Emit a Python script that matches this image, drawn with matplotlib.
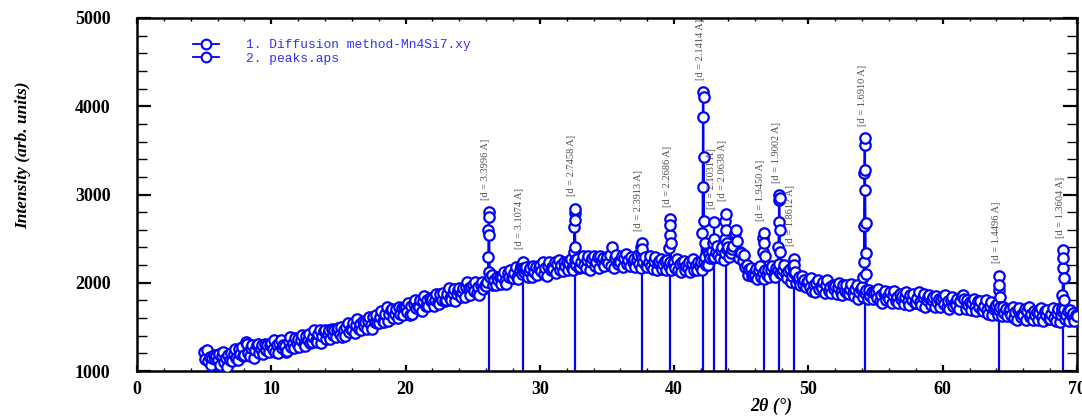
import numpy as np
import matplotlib
matplotlib.use("Agg")
import matplotlib.pyplot as plt
from matplotlib.lines import Line2D
from matplotlib.ticker import MultipleLocator

# XRD pattern, 0.1 deg steps from 5.0 to 70.0 (one row per degree)
two_theta = np.round(np.arange(5.0, 70.05, 0.1), 1)
intensity = [
    1210, 1140, 1240, 1110, 1160, 1070, 1150, 1180, 1140, 1170,  # 5
    1120, 1190, 1070, 1170, 1220, 1100, 1150, 1040, 1180, 1130,  # 6
    1200, 1110, 1190, 1250, 1150, 1120, 1250, 1190, 1270, 1170,  # 7
    1180, 1330, 1310, 1200, 1170, 1260, 1300, 1150, 1240, 1290,  # 8
    1310, 1200, 1250, 1290, 1190, 1310, 1240, 1290, 1210, 1300,  # 9
    1320, 1250, 1350, 1220, 1290, 1200, 1320, 1350, 1260, 1300,  # 10
    1280, 1220, 1230, 1330, 1390, 1270, 1320, 1260, 1370, 1320,  # 11
    1360, 1270, 1350, 1410, 1310, 1280, 1400, 1350, 1420, 1320,  # 12
    1330, 1390, 1460, 1350, 1330, 1420, 1460, 1320, 1400, 1450,  # 13
    1470, 1360, 1420, 1460, 1360, 1480, 1410, 1470, 1380, 1470,  # 14
    1490, 1420, 1500, 1380, 1470, 1400, 1500, 1540, 1440, 1480,  # 15
    1470, 1540, 1430, 1520, 1590, 1480, 1530, 1460, 1570, 1510,  # 16
    1560, 1480, 1570, 1610, 1520, 1480, 1610, 1560, 1630, 1540,  # 17
    1540, 1610, 1680, 1570, 1560, 1650, 1720, 1570, 1650, 1690,  # 18
    1700, 1600, 1650, 1700, 1600, 1720, 1650, 1710, 1630, 1720,  # 19
    1730, 1670, 1770, 1640, 1740, 1650, 1760, 1800, 1710, 1740,  # 20
    1720, 1800, 1680, 1790, 1850, 1740, 1800, 1740, 1830, 1790,  # 21
    1820, 1740, 1810, 1870, 1780, 1760, 1870, 1810, 1880, 1790,  # 22
    1800, 1870, 1940, 1830, 1800, 1880, 1930, 1790, 1870, 1920,  # 23
    1940, 1840, 1890, 1940, 1840, 1950, 2010, 1940, 1860, 1950,  # 24
    1970, 1910, 2010, 1880, 1950, 1860, 1970, 2010, 1930, 1980,  # 25
    1960, 2010, 2120, 2060, 2090, 1970, 2030, 1970, 2070, 2030,  # 26
    2070, 1990, 2070, 2120, 2020, 1990, 2110, 2070, 2140, 2050,  # 27
    2050, 2110, 2180, 2070, 2040, 2140, 2190, 2100, 2120, 2160,  # 28
    2180, 2070, 2130, 2170, 2060, 2190, 2120, 2180, 2090, 2170,  # 29
    2200, 2130, 2230, 2100, 2170, 2080, 2190, 2230, 2140, 2180,  # 30
    2160, 2230, 2110, 2210, 2260, 2150, 2200, 2130, 2240, 2190,  # 31
    2230, 2140, 2220, 2270, 2170, 2140, 2260, 2200, 2270, 2170,  # 32
    2180, 2240, 2300, 2200, 2170, 2260, 2300, 2150, 2240, 2280,  # 33
    2300, 2190, 2240, 2290, 2170, 2300, 2230, 2280, 2190, 2260,  # 34
    2290, 2220, 2320, 2190, 2400, 2170, 2280, 2310, 2210, 2250,  # 35
    2230, 2300, 2180, 2280, 2330, 2210, 2260, 2190, 2290, 2240,  # 36
    2270, 2180, 2260, 2310, 2210, 2170, 2280, 2230, 2290, 2190,  # 37
    2180, 2240, 2300, 2190, 2160, 2250, 2290, 2140, 2220, 2250,  # 38
    2270, 2160, 2210, 2250, 2140, 2260, 2190, 2240, 2150, 2220,  # 39
    2240, 2170, 2270, 2140, 2210, 2120, 2230, 2250, 2150, 2190,  # 40
    2170, 2240, 2120, 2220, 2270, 2150, 2200, 2140, 2240, 2190,  # 41
    2230, 2150, 2230, 2290, 2200, 2200, 2330, 2280, 2360, 2280,  # 42
    2290, 2350, 2420, 2310, 2280, 2370, 2410, 2260, 2340, 2380,  # 43
    2410, 2290, 2340, 2380, 2420, 2560, 2600, 2470, 2280, 2350,  # 44
    2340, 2250, 2320, 2180, 2200, 2090, 2160, 2170, 2080, 2100,  # 45
    2090, 2160, 2040, 2140, 2190, 2070, 2110, 2040, 2140, 2090,  # 46
    2150, 2060, 2140, 2190, 2090, 2060, 2170, 2140, 2210, 2110,  # 47
    2100, 2150, 2200, 2100, 2050, 2130, 2160, 2010, 2080, 2110,  # 48
    2120, 2000, 2040, 2070, 1970, 2080, 1990, 2030, 1950, 2010,  # 49
    2020, 1950, 2050, 1910, 1980, 1890, 2000, 2030, 1930, 1960,  # 50
    1940, 2010, 1880, 1980, 2030, 1910, 1950, 1880, 1980, 1930,  # 51
    1960, 1870, 1950, 2000, 1900, 1860, 1970, 1910, 1980, 1880,  # 52
    1870, 1930, 1990, 1880, 1850, 1930, 1970, 1820, 1900, 1930,  # 53
    1950, 1840, 1880, 1920, 1820, 1920, 1850, 1900, 1820, 1880,  # 54
    1900, 1830, 1930, 1790, 1860, 1770, 1880, 1910, 1810, 1850,  # 55
    1820, 1890, 1770, 1860, 1910, 1790, 1840, 1770, 1870, 1820,  # 56
    1850, 1760, 1840, 1890, 1790, 1750, 1860, 1810, 1870, 1770,  # 57
    1770, 1830, 1890, 1780, 1750, 1840, 1870, 1720, 1800, 1840,  # 58
    1860, 1750, 1800, 1840, 1730, 1850, 1780, 1820, 1730, 1810,  # 59
    1830, 1760, 1860, 1730, 1790, 1700, 1810, 1840, 1740, 1770,  # 60
    1750, 1820, 1700, 1790, 1850, 1860, 1820, 1700, 1800, 1750,  # 61
    1780, 1690, 1770, 1820, 1720, 1680, 1790, 1730, 1790, 1690,  # 62
    1680, 1740, 1800, 1690, 1650, 1740, 1780, 1630, 1700, 1730,  # 63
    1750, 1640, 1690, 1720, 1620, 1730, 1660, 1700, 1620, 1680,  # 64
    1700, 1630, 1730, 1600, 1670, 1580, 1690, 1710, 1610, 1650,  # 65
    1630, 1700, 1580, 1680, 1730, 1610, 1650, 1580, 1680, 1640,  # 66
    1670, 1580, 1660, 1710, 1610, 1570, 1680, 1630, 1690, 1590,  # 67
    1590, 1650, 1710, 1600, 1570, 1660, 1700, 1560, 1640, 1680,  # 68
    1700, 1590, 1640, 1680, 1570, 1690, 1620, 1660, 1570, 1640,  # 69
    1620,                                                        # 70
]

# finer points on the sharp reflections
peak_detail_2theta = [
    26.15, 26.17, 26.19, 26.21, 26.23,
    28.69, 28.71, 28.73,
    32.53, 32.56, 32.58, 32.60, 32.62, 32.65,
    37.54, 37.56, 37.58, 37.61,
    39.64, 39.67, 39.70, 39.72, 39.75,
    42.09, 42.12, 42.15, 42.17, 42.19, 42.21, 42.24, 42.27,
    42.93, 42.97, 43.00,
    43.78, 43.81, 43.83, 43.86, 43.90,
    46.60, 46.63, 46.66, 46.69, 46.73,
    47.76, 47.79, 47.81, 47.83, 47.85, 47.88, 47.92,
    48.86, 48.90, 48.93,
    54.10, 54.12, 54.14, 54.16, 54.18, 54.20, 54.22, 54.24, 54.26, 54.28, 54.31,
    64.15, 64.17, 64.19, 64.21, 64.24,
    68.90, 68.92, 68.94, 68.97, 68.99, 69.02, 69.05,
]
peak_detail_int = [
    2290, 2600, 2800, 2745, 2540,
    2180, 2240, 2170,
    2350, 2630, 2790, 2840, 2710, 2400,
    2330, 2400, 2450, 2380,
    2390, 2540, 2720, 2650, 2450,
    2560, 3090, 3880, 4160, 4105, 3430, 2700, 2450,
    2450, 2690, 2500,
    2500, 2700, 2780, 2600, 2450,
    2350, 2510, 2560, 2450, 2300,
    2400, 2690, 2940, 2990, 2960, 2600, 2350,
    2180, 2270, 2200,
    2070, 2230, 2640, 3240, 3560, 3640, 3280, 3050, 2680, 2340, 2100,
    1770, 1920, 2080, 1975, 1840,
    1715, 1860, 2170, 2370, 2280, 2055, 1800,
]

# peaks.aps: position, top, d-spacing label
peak_pos = [26.19, 28.71, 32.59, 37.58, 39.70, 42.17, 42.97, 43.83,
            46.66, 47.83, 48.90, 54.20, 64.20, 68.97]
peak_top = [2800, 2240, 2840, 2450, 2720, 4160, 2690, 2780,
            2560, 2990, 2270, 3640, 2080, 2370]
peak_d = ["3.3996", "3.1074", "2.7458", "2.3913", "2.2686", "2.1414", "2.1031",
          "2.0638", "1.9450", "1.9002", "1.8612", "1.6910", "1.4496", "1.3604"]

x = np.concatenate([two_theta, peak_detail_2theta])
y = np.concatenate([intensity, peak_detail_int])
order = np.argsort(x, kind="stable")
x, y = x[order], y[order]

blue = "#0000ff"
serif = "Liberation Serif"

fig = plt.figure(figsize=(10.82, 4.17), dpi=100)
ax = fig.add_axes([137 / 1082, 1 - 371 / 417, 940 / 1082, 353 / 417])

ax.plot(x, y, "-o", color=blue, lw=1.2, ms=7.5, mew=1.6, mfc="white", mec=blue, zorder=3)
ax.vlines(peak_pos, 1000, peak_top, color=blue, lw=1.6, zorder=2)

for pos, top, d in zip(peak_pos, peak_top, peak_d):
    ax.annotate("[d = {} A]".format(d), xy=(pos, top), xytext=(-2, 9),
                textcoords="offset points", rotation=90, ha="center", va="bottom",
                fontsize=7.5, family=serif, color="#505050", zorder=4)

ax.set_xlim(0, 70)
ax.set_ylim(1000, 5000)
ax.xaxis.set_major_locator(MultipleLocator(10))
ax.xaxis.set_minor_locator(MultipleLocator(2))
ax.yaxis.set_major_locator(MultipleLocator(1000))
ax.yaxis.set_minor_locator(MultipleLocator(200))

for s in ax.spines.values():
    s.set_linewidth(1.8)
ax.tick_params(axis="x", which="major", direction="in", length=4.5, width=1.6,
               top=True, pad=7)
ax.tick_params(axis="x", which="minor", direction="in", length=2.2, width=1, top=True)
ax.tick_params(axis="y", which="major", direction="in", length=10, width=1.6,
               right=True, pad=19)
ax.tick_params(axis="y", which="minor", direction="in", length=7, width=1, right=True)
for lab in ax.get_xticklabels() + ax.get_yticklabels():
    lab.set_family(serif)
    lab.set_fontweight("bold")
    lab.set_fontsize(13)

ax.set_xlabel("2θ (°)", family=serif, fontweight="bold", style="italic", fontsize=13)
ax.xaxis.set_label_coords(0.675, -0.075)
ax.set_ylabel("Intensity (arb. units)", family=serif, fontweight="bold",
              style="italic", fontsize=12.5)
ax.yaxis.set_label_coords(-0.113, 0.612)

handles = [Line2D([], [], color=blue, lw=1.3, marker="o", ms=7, mew=1.5,
                  mfc="white", mec=blue) for _ in range(2)]
ax.legend(handles, ["1. Diffusion method-Mn4Si7.xy", "2. peaks.aps"],
          loc="upper left", bbox_to_anchor=(0.0596, 0.94), frameon=False,
          prop={"family": "Liberation Mono", "size": 9.3}, labelcolor="#3030ff",
          handlelength=2.0, handletextpad=2.1, labelspacing=0.1, borderpad=0,
          borderaxespad=0)

fig.savefig("out.png", dpi=100)
